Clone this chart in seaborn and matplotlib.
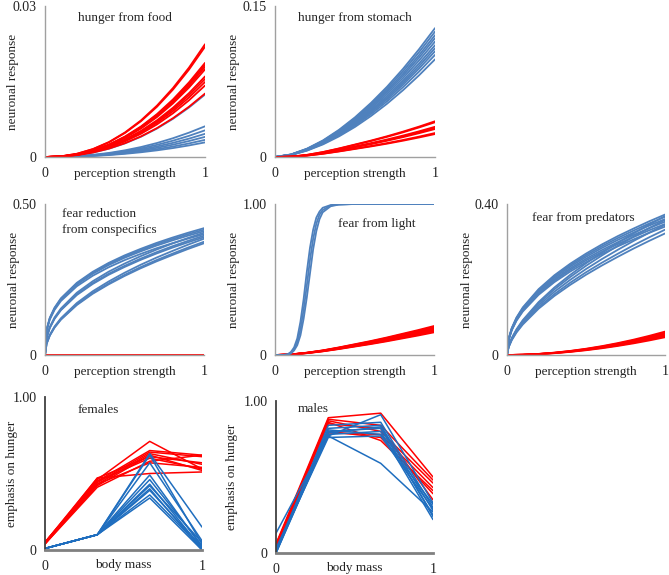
import numpy as np
import pandas as pd
import matplotlib
matplotlib.use("Agg")
import matplotlib.pyplot as plt
import seaborn as sns

# x grids (perception strength / body mass)
x_curve = [0, 0.1, 0.2, 0.3, 0.4, 0.5, 0.6, 0.7, 0.8, 0.9, 1.0]
x_fine = [0, 0.01, 0.03, 0.06, 0.1, 0.2, 0.3, 0.4, 0.5, 0.6, 0.7, 0.8, 0.9, 1.0]
x_light = [0, 0.05, 0.08, 0.1, 0.12, 0.14, 0.16, 0.18, 0.2, 0.22, 0.24, 0.26,
           0.28, 0.3, 0.35, 0.4, 0.5, 0.6, 0.7, 0.8, 0.9, 1.0]
x_mass = [0, 0.333, 0.667, 1.0]

# hunger from food (shape, scaled to each curve's end value)
food_shape = [0, 0.006, 0.029, 0.071, 0.133, 0.218, 0.325, 0.456, 0.612, 0.793, 1.0]
food_red_end = [0.0224, 0.0219, 0.0187, 0.0183, 0.0179, 0.0174, 0.0160, 0.0155, 0.0149, 0.0142, 0.0126]
food_blue_end = [0.0124, 0.0061, 0.0053, 0.0046, 0.0040, 0.0034, 0.0029]

# hunger from stomach
stomach_blue_shape = [0, 0.02, 0.065, 0.129, 0.211, 0.308, 0.42, 0.545, 0.684, 0.836, 1.0]
stomach_blue_end = [0.128, 0.1245, 0.121, 0.118, 0.1146, 0.111, 0.108, 0.105, 0.1014, 0.097]
stomach_red_shape = [0, 0.01, 0.06, 0.14, 0.24, 0.35, 0.46, 0.58, 0.71, 0.85, 1.0]
stomach_red_end = [0.0355, 0.0345, 0.0300, 0.0288, 0.0278, 0.0238, 0.0228]

# fear reduction from conspecifics
consp_steep_shape = [0, 0.2, 0.293, 0.373, 0.447, 0.569, 0.656, 0.726, 0.785, 0.836, 0.883, 0.925, 0.964, 1.0]
consp_mid_shape = [0, 0.145, 0.229, 0.307, 0.380, 0.509, 0.603, 0.681, 0.747, 0.807, 0.861, 0.911, 0.957, 1.0]
consp_soft_shape = [0, 0.1, 0.173, 0.245, 0.316, 0.447, 0.548, 0.632, 0.707, 0.775, 0.837, 0.894, 0.949, 1.0]
consp_steep_end = [0.420, 0.415, 0.410, 0.400]
consp_mid_end = [0.405, 0.395, 0.390]
consp_soft_end = [0.385, 0.375, 0.370]
consp_red_end = [0.0]

# fear from light
light_blue = [
    [0, 0, 0.005, 0.02, 0.05, 0.11, 0.22, 0.37, 0.55, 0.71, 0.83, 0.91, 0.95, 0.975, 0.993, 0.998, 1, 1, 1, 1, 1, 1],
    [0, 0, 0.003, 0.015, 0.04, 0.085, 0.17, 0.30, 0.46, 0.63, 0.77, 0.87, 0.93, 0.96, 0.99, 0.997, 1, 1, 1, 1, 1, 1],
    [0, 0, 0.002, 0.01, 0.03, 0.065, 0.13, 0.24, 0.38, 0.54, 0.70, 0.82, 0.90, 0.945, 0.985, 0.996, 1, 1, 1, 1, 1, 1],
]
light_red_shape = [0, 0.02, 0.08, 0.16, 0.26, 0.37, 0.48, 0.60, 0.73, 0.86, 1.0]
light_red_end = [0.192, 0.186, 0.180, 0.174, 0.168, 0.162, 0.156, 0.150]

# fear from predators
pred_upper_shape = [0, 0.115, 0.192, 0.267, 0.339, 0.469, 0.568, 0.650, 0.722, 0.787, 0.846, 0.900, 0.952, 1.0]
pred_lower_shape = [0, 0.063, 0.122, 0.185, 0.251, 0.381, 0.486, 0.577, 0.660, 0.736, 0.807, 0.875, 0.939, 1.0]
pred_upper_end = [0.372, 0.366, 0.360, 0.353, 0.347, 0.340]
pred_lower_end = [0.368, 0.358, 0.345, 0.332, 0.322]
pred_red_shape = [0, 0.0126, 0.047, 0.101, 0.175, 0.268, 0.379, 0.508, 0.654, 0.819, 1.0]
pred_red_end = [0.062, 0.059, 0.056, 0.053, 0.050, 0.047]

# emphasis on hunger vs body mass
females_red = [
    [0.05, 0.46, 0.71, 0.53], [0.05, 0.45, 0.65, 0.62], [0.04, 0.44, 0.64, 0.61],
    [0.05, 0.43, 0.63, 0.56], [0.04, 0.42, 0.62, 0.52], [0.05, 0.45, 0.60, 0.53],
    [0.04, 0.41, 0.58, 0.62], [0.05, 0.43, 0.57, 0.54], [0.04, 0.47, 0.50, 0.51],
    [0.05, 0.47, 0.61, 0.57],
]
females_blue = [
    [0.01, 0.10, 0.63, 0.15], [0.01, 0.10, 0.62, 0.04], [0.01, 0.10, 0.57, 0.06],
    [0.01, 0.10, 0.49, 0.02], [0.01, 0.10, 0.46, 0.03], [0.01, 0.10, 0.43, 0.01],
    [0.01, 0.10, 0.40, 0.00], [0.01, 0.10, 0.39, 0.02], [0.01, 0.10, 0.36, 0.01],
    [0.01, 0.10, 0.34, 0.00], [0.01, 0.10, 0.42, 0.05],
]
males_red = [
    [0.06, 0.89, 0.92, 0.50], [0.05, 0.88, 0.84, 0.48], [0.04, 0.87, 0.80, 0.46],
    [0.03, 0.86, 0.74, 0.41], [0.05, 0.85, 0.82, 0.35], [0.04, 0.79, 0.78, 0.43],
    [0.06, 0.80, 0.76, 0.39],
]
males_blue = [
    [0.13, 0.77, 0.91, 0.33], [0.00, 0.84, 0.86, 0.30], [0.02, 0.82, 0.84, 0.28],
    [0.01, 0.80, 0.82, 0.25], [0.00, 0.78, 0.80, 0.22], [0.03, 0.77, 0.59, 0.27],
    [0.01, 0.81, 0.78, 0.32], [0.00, 0.79, 0.83, 0.24], [0.02, 0.76, 0.77, 0.29],
]

RED = "#FF0000"
BLUE = "#4F81BD"
BLUE2 = "#1F6EBF"


def scaled(x, shape, ends, group, tag=""):
    rows = []
    for i, e in enumerate(ends):
        for xv, s in zip(x, shape):
            rows.append((xv, s * e, f"{group}{tag}{i}", group))
    return rows


def explicit(x, lines, group, tag=""):
    rows = []
    for i, ys in enumerate(lines):
        for xv, yv in zip(x, ys):
            rows.append((xv, yv, f"{group}{tag}{i}", group))
    return rows


def frame(*parts):
    rows = [r for p in parts for r in p]
    return pd.DataFrame(rows, columns=["x", "y", "curve", "group"])


sns.set_style("white")
plt.rcParams["font.family"] = ["Liberation Serif", "DejaVu Serif"]

W, H = 669, 575
fig = plt.figure(figsize=(W / 100, H / 100), dpi=100)


def add_ax(left, top, right, bottom):
    return fig.add_axes([left / W, (H - bottom) / H, (right - left) / W, (bottom - top) / H])


def style(ax, ymax, ylabels, xlabel, ylabel, ylab_x, xlab_y, dark=False):
    ax.set_xlim(0, 1)
    ax.set_ylim(0, ymax)
    ax.set_xticks([0, 1], ["0", "1"])
    ax.set_yticks([0, ymax], ylabels)
    for s in ["top", "right"]:
        ax.spines[s].set_visible(False)
    if dark:
        ax.spines["left"].set_color("#404040")
        ax.spines["left"].set_linewidth(1.3)
        ax.spines["bottom"].set_color("#808080")
        ax.spines["bottom"].set_linewidth(2.0)
    else:
        ax.spines["left"].set_color("#A0A0A0")
        ax.spines["bottom"].set_color("#A0A0A0")
        ax.spines["left"].set_linewidth(1.0)
        ax.spines["bottom"].set_linewidth(1.0)
    ax.tick_params(axis="y", length=3, width=0.8, color="#808080", labelsize=10, pad=3, labelcolor="#222222")
    ax.tick_params(axis="x", length=2, width=0.8, color="#808080", labelsize=10, pad=5, labelcolor="#222222")
    ax.set_xlabel(xlabel, fontsize=9.5, color="#222222")
    ax.set_ylabel(ylabel, fontsize=9.5, color="#222222")
    ax.yaxis.set_label_coords(ylab_x, 0.5)
    ax.xaxis.set_label_coords(0.5, xlab_y)


def draw(ax, df, order, palette, lw):
    sns.lineplot(data=df, x="x", y="y", hue="group", hue_order=order, units="curve",
                 estimator=None, palette=palette, lw=lw, legend=False, sort=False, ax=ax)


pal = {"red": RED, "blue": BLUE}
pal2 = {"red": RED, "blue": BLUE2}

# row 1
ax = add_ax(45, 6, 205, 157)
df = frame(scaled(x_curve, food_shape, food_blue_end, "blue"),
           scaled(x_curve, food_shape, food_red_end, "red"))
draw(ax, df, ["blue", "red"], pal, 1.3)
style(ax, 0.03, ["0", "0.03"], "perception strength", "neuronal response", -0.16, -0.07)
ax.text(0.5, 0.92, "hunger from food", transform=ax.transAxes, ha="center", va="center", fontsize=9.5)

ax = add_ax(275, 6, 435, 157)
df = frame(scaled(x_curve, stomach_blue_shape, stomach_blue_end, "blue"),
           scaled(x_curve, stomach_red_shape, stomach_red_end, "red"))
draw(ax, df, ["blue", "red"], pal, 1.3)
style(ax, 0.15, ["0", "0.15"], "perception strength", "neuronal response", -0.22, -0.07)
ax.text(0.5, 0.92, "hunger from stomach", transform=ax.transAxes, ha="center", va="center", fontsize=9.5)

# row 2
ax = add_ax(45, 204, 204, 355)
df = frame(scaled(x_fine, consp_steep_shape, consp_steep_end, "blue", "s"),
           scaled(x_fine, consp_mid_shape, consp_mid_end, "blue", "m"),
           scaled(x_fine, consp_soft_shape, consp_soft_end, "blue", "l"),
           scaled(x_curve, food_shape, consp_red_end, "red"))
draw(ax, df, ["blue", "red"], pal, 1.3)
style(ax, 0.5, ["0", "0.50"], "perception strength", "neuronal response", -0.16, -0.07)
ax.text(0.11, 0.88, "fear reduction\nfrom conspecifics", transform=ax.transAxes, ha="left", va="center",
        fontsize=9.5, linespacing=1.5)

ax = add_ax(275, 204, 434, 355)
df = frame(explicit(x_light, light_blue, "blue"),
           scaled(x_curve, light_red_shape, light_red_end, "red"))
draw(ax, df, ["red", "blue"], pal, 1.3)
style(ax, 1.0, ["0", "1.00"], "perception strength", "neuronal response", -0.22, -0.07)
ax.text(0.64, 0.87, "fear from light", transform=ax.transAxes, ha="center", va="center", fontsize=9.5)

ax = add_ax(507, 204, 665, 355)
df = frame(scaled(x_fine, pred_upper_shape, pred_upper_end, "blue", "u"),
           scaled(x_fine, pred_lower_shape, pred_lower_end, "blue", "l"),
           scaled(x_curve, pred_red_shape, pred_red_end, "red"))
draw(ax, df, ["blue", "red"], pal, 1.3)
style(ax, 0.4, ["0", "0.40"], "perception strength", "neuronal response", -0.215, -0.07)
ax.text(0.48, 0.91, "fear from predators", transform=ax.transAxes, ha="center", va="center", fontsize=9.5)

# row 3
ax = add_ax(45, 397, 202, 550)
df = frame(explicit(x_mass, females_red, "red"), explicit(x_mass, females_blue, "blue"))
draw(ax, df, ["red", "blue"], pal2, 1.1)
style(ax, 1.0, ["0", "1.00"], "body mass", "emphasis on hunger", -0.17, -0.06, dark=True)
ax.text(0.34, 0.915, "females", transform=ax.transAxes, ha="center", va="center", fontsize=9.5)

ax = add_ax(276, 401, 433, 553)
df = frame(explicit(x_mass, males_red, "red"), explicit(x_mass, males_blue, "blue"))
draw(ax, df, ["red", "blue"], pal2, 1.1)
style(ax, 1.0, ["0", "1.00"], "body mass", "emphasis on hunger", -0.24, -0.06, dark=True)
ax.text(0.24, 0.95, "males", transform=ax.transAxes, ha="center", va="center", fontsize=9.5)

fig.savefig("out.png", dpi=100)
